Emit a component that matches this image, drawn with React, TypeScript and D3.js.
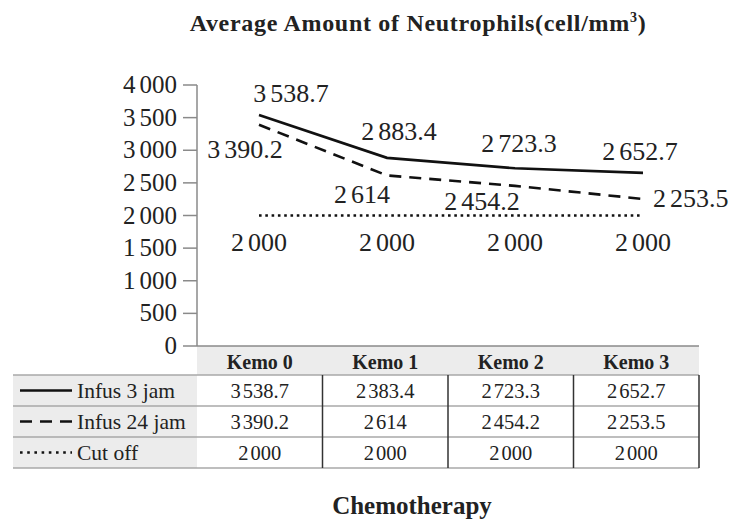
import React from 'react';
import * as d3 from 'd3';

// categories and values
const categories = ['Kemo 0', 'Kemo 1', 'Kemo 2', 'Kemo 3'];
const seriesNames = ['Infus 3 jam', 'Infus 24 jam', 'Cut off'];
const infus3 = [3538.7, 2883.4, 2723.3, 2652.7];
const infus24 = [3390.2, 2614, 2454.2, 2253.5];
const cutOff = [2000, 2000, 2000, 2000];
// the table row printed in the reference (Kemo 1 reads 2383.4 there)
const tableInfus3 = [3538.7, 2383.4, 2723.3, 2652.7];
const yTicks = [0, 500, 1000, 1500, 2000, 2500, 3000, 3500, 4000];

const W = 730;
const H = 521;
const SERIF = '"Liberation Serif", "Times New Roman", serif';

// split a number into thousands groups, drawn with a small gap between them
const fmtParts = (v: number) => {
  const s = d3.format('')(v);
  const [int, dec] = s.split('.');
  const head = int.length > 3 ? int.slice(0, int.length - 3) : '';
  const tail = int.length > 3 ? int.slice(-3) : int;
  return { head, tail: tail + (dec ? '.' + dec : '') };
};

const Num = ({ v, gap }: { v: number; gap: number }) => {
  const p = fmtParts(v);
  return p.head ? (
    <>
      <tspan>{p.head}</tspan>
      <tspan dx={gap}>{p.tail}</tspan>
    </>
  ) : (
    <tspan>{p.tail}</tspan>
  );
};

const App = () => {
  const y = d3.scaleLinear().domain([0, 4000]).range([346, 85]);
  const x = d3.scalePoint<string>().domain(categories).range([259, 643]);
  const col = d3.scaleBand<string>().domain(categories).range([197, 699]);

  const line = d3
    .line<number>()
    .x((_, i) => x(categories[i]) as number)
    .y((d) => y(d));

  const series = [
    { name: seriesNames[0], values: infus3, table: tableInfus3, dash: undefined as string | undefined, key: undefined as string | undefined,
      // label nudges (dx, dy) and anchor per point
      nudge: [[32, -13], [12, -18], [4, -16], [-3, -13]], anchor: ['middle', 'middle', 'middle', 'middle'] },
    { name: seriesNames[1], values: infus24, table: infus24, dash: '12,8', key: '12,8',
      nudge: [[-14, 33], [-25, 28], [-33, 24], [10, 8]], anchor: ['middle', 'middle', 'middle', 'start'] },
    { name: seriesNames[2], values: cutOff, table: cutOff, dash: '2.6,3.7', key: '2.6,4.6',
      nudge: [[0, 35], [0, 35], [0, 35], [0, 35]], anchor: ['middle', 'middle', 'middle', 'middle'] },
  ];

  const rowTop = 375;
  const rowH = 31;
  const tableLeft = 13;

  return (
    <svg width={W} height={H} style={{ position: 'absolute', left: 0, top: 0, background: '#fff' }}>
      {/* title */}
      <text x={418} y={31} textAnchor="middle" fontFamily={SERIF} fontWeight="bold" fontSize={24} letterSpacing={0.7} fill="#222">
        Average Amount of Neutrophils(cell/mm<tspan fontSize={14} dy={-9}>3</tspan><tspan dy={9}>)</tspan>
      </text>

      {/* y axis */}
      <line x1={197} x2={197} y1={y(4000)} y2={y(0)} stroke="#8a8a8a" strokeWidth={1.5} />
      {yTicks.map((t) => (
        <g key={t}>
          <line x1={183} x2={197} y1={y(t)} y2={y(t)} stroke="#8a8a8a" strokeWidth={1.5} />
          <text x={177} y={y(t) + 8} textAnchor="end" fontFamily={SERIF} fontSize={25} fill="#222">
            <Num v={t} gap={4} />
          </text>
        </g>
      ))}

      {/* series lines */}
      {series.map((s) => (
        <path
          key={s.name}
          d={line(s.values) as string}
          fill="none"
          stroke="#111"
          strokeWidth={2.6}
          strokeDasharray={s.dash}
        />
      ))}

      {/* data labels */}
      {series.map((s) =>
        s.values.map((v, i) => (
          <text
            key={s.name + i}
            x={(x(categories[i]) as number) + s.nudge[i][0]}
            y={y(v) + s.nudge[i][1]}
            textAnchor={s.anchor[i]}
            fontFamily={SERIF}
            fontSize={26}
            fill="#222"
          >
            <Num v={v} gap={4} />
          </text>
        ))
      )}

      {/* data table */}
      <rect x={197} y={346} width={502} height={rowTop - 346} fill="#ececec" />
      <rect x={tableLeft} y={rowTop} width={197 - tableLeft} height={rowH * 3} fill="#ececec" />
      <line x1={197} x2={699} y1={346} y2={346} stroke="#8a8a8a" strokeWidth={1.5} />
      {categories.map((c) => (
        <text
          key={c}
          x={(col(c) as number) + col.bandwidth() / 2}
          y={369}
          textAnchor="middle"
          fontFamily={SERIF}
          fontWeight="bold"
          fontSize={20}
          fill="#222"
        >
          {c}
        </text>
      ))}
      {[0, 1, 2, 3].map((r) => (
        <line
          key={r}
          x1={tableLeft}
          x2={699}
          y1={rowTop + r * rowH}
          y2={rowTop + r * rowH}
          stroke="#a8a8a8"
          strokeWidth={1.5}
        />
      ))}
      {categories.map((c) => (
        <line
          key={c}
          x1={(col(c) as number) + col.bandwidth()}
          x2={(col(c) as number) + col.bandwidth()}
          y1={rowTop}
          y2={rowTop + rowH * 3}
          stroke="#333"
          strokeWidth={1.5}
        />
      ))}
      {series.map((s, r) => {
        const cy = rowTop + r * rowH + rowH / 2;
        return (
          <g key={s.name}>
            <line x1={20} x2={72} y1={cy} y2={cy} stroke="#111" strokeWidth={2.6} strokeDasharray={s.key} />
            <text x={77} y={cy + 7} fontFamily={SERIF} fontSize={21.5} fill="#222">
              {s.name}
            </text>
            {s.table.map((v, i) => (
              <text
                key={i}
                x={(col(categories[i]) as number) + col.bandwidth() / 2}
                y={cy + 7}
                textAnchor="middle"
                fontFamily={SERIF}
                fontSize={20.5}
                fill="#222"
              >
                <Num v={v} gap={2} />
              </text>
            ))}
          </g>
        );
      })}

      {/* x axis title */}
      <text x={412} y={514} textAnchor="middle" fontFamily={SERIF} fontWeight="bold" fontSize={25} fill="#222">
        Chemotherapy
      </text>
    </svg>
  );
};

export default App;
